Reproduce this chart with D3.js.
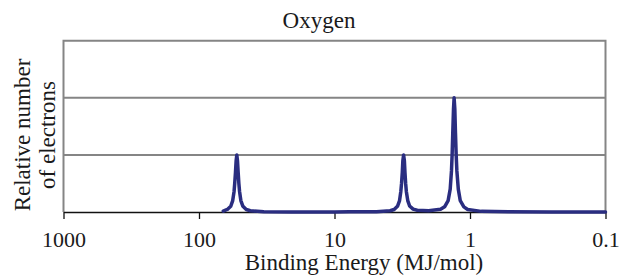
<!DOCTYPE html>
<html>
<head>
<meta charset="utf-8">
<script src="https://cdn.jsdelivr.net/npm/d3@7"></script>
<style>
  html, body { margin: 0; padding: 0; background: #fff; }
  svg { display: block; }
</style>
</head>
<body>
<svg id="chart" width="623" height="276"></svg>
<script>
// ---- data ----
const title = "Oxygen";
const xLabel = "Binding Energy (MJ/mol)";
const yLabelLines = ["Relative number", "of electrons"];
const xTickValues = [1000, 100, 10, 1, 0.1];
const xTickLabels = ["1000", "100", "10", "1", "0.1"];
const yGridValues = [2, 4, 6];
// spectrum points (energy in MJ/mol, relative count)
const energies = [66.2, 61.8, 58.3, 56.4, 55.1, 54.5, 53.8, 53.2, 52.6, 52.0, 51.4, 50.8, 50.2, 49.1, 47.4, 44.8, 41.8, 33.2, 20.9, 10.0,
  7.76, 4.90, 3.89, 3.63, 3.43, 3.31, 3.24, 3.20, 3.16, 3.13, 3.09, 3.05, 3.02, 2.985, 2.95, 2.88, 2.79, 2.63, 2.45, 2.02,
  1.65, 1.54, 1.45, 1.40, 1.37, 1.355, 1.34, 1.324, 1.31, 1.294, 1.28, 1.265, 1.25, 1.22, 1.18, 1.11, 1.04, 0.826, 0.521, 0.25, 0.1];
const counts = [0.03, 0.088, 0.20, 0.40, 0.72, 1.0, 1.385, 1.80, 2.0, 1.80, 1.385, 1.0, 0.72, 0.40, 0.20, 0.088, 0.044, 0.011, 0.004, 0.003,
  0.005, 0.011, 0.044, 0.088, 0.20, 0.40, 0.72, 1.0, 1.385, 1.80, 2.0, 1.80, 1.385, 1.0, 0.72, 0.40, 0.21, 0.10, 0.06, 0.04,
  0.093, 0.18, 0.40, 0.80, 1.44, 2.0, 2.77, 3.6, 4.0, 3.6, 2.77, 2.0, 1.44, 0.80, 0.40, 0.18, 0.09, 0.022, 0.006, 0.002, 0.001];

(function () {
const FONT = "'Liberation Serif', 'Times New Roman', Times, serif";
// ---- layout ----
const pLeft = 63.5, pRight = 605.5, pTop = 40.7, pBottom = 212;
const svg = d3.select("#chart");

const x = d3.scaleLog().domain([1000, 0.1]).range([pLeft, pRight]);
const y = d3.scaleLinear().domain([0, 6]).range([pBottom, pTop]);

// gridlines
svg.append("g")
  .selectAll("line")
  .data(yGridValues.filter(v => v < 6))
  .join("line")
  .attr("x1", pLeft).attr("x2", pRight)
  .attr("y1", d => y(d)).attr("y2", d => y(d))
  .attr("stroke", "#858585").attr("stroke-width", 2);

// frame (top, left, right) in gray
svg.append("path")
  .attr("d", `M${pLeft},${pBottom} L${pLeft},${y(6)} L${pRight},${y(6)} L${pRight},${pBottom}`)
  .attr("fill", "none").attr("stroke", "#858585").attr("stroke-width", 2);

// x axis
const xAxis = d3.axisBottom(x)
  .tickValues(xTickValues)
  .tickFormat((d, i) => xTickLabels[i])
  .tickSize(7)
  .tickSizeOuter(0)
  .tickPadding(12);
const gx = svg.append("g").attr("transform", `translate(0,${pBottom})`).call(xAxis);
gx.attr("font-family", FONT).attr("font-size", 22);
gx.select(".domain").attr("stroke", "#111").attr("stroke-width", 1.5);
gx.selectAll(".tick line").attr("stroke", "#111").attr("stroke-width", 1.3);
gx.selectAll(".tick text").attr("fill", "#1a1a1a");

// spectrum line
const pts = energies.map((e, i) => [e, counts[i]]);
const line = d3.line().x(d => x(d[0])).y(d => y(d[1]));
svg.append("path")
  .datum(pts)
  .attr("d", line)
  .attr("fill", "none")
  .attr("stroke", "#2a2d80")
  .attr("stroke-width", 3.5)
  .attr("stroke-linejoin", "round")
  .attr("stroke-linecap", "round");

// title
svg.append("text")
  .attr("x", 319).attr("y", 28)
  .attr("text-anchor", "middle")
  .attr("font-family", FONT).attr("font-size", 23).attr("fill", "#1a1a1a")
  .text(title);

// x label
svg.append("text")
  .attr("x", 364).attr("y", 270)
  .attr("text-anchor", "middle")
  .attr("font-family", FONT).attr("font-size", 23).attr("fill", "#1a1a1a")
  .text(xLabel);

// y label (two lines)
const yl = svg.append("text")
  .attr("transform", "translate(30,135) rotate(-90)")
  .attr("text-anchor", "middle")
  .attr("font-family", FONT).attr("font-size", 23).attr("fill", "#1a1a1a");
yl.append("tspan").attr("x", 0).attr("y", 0).text(yLabelLines[0]);
yl.append("tspan").attr("x", 0).attr("y", 25).text(yLabelLines[1]);
})();
</script>
</body>
</html>
